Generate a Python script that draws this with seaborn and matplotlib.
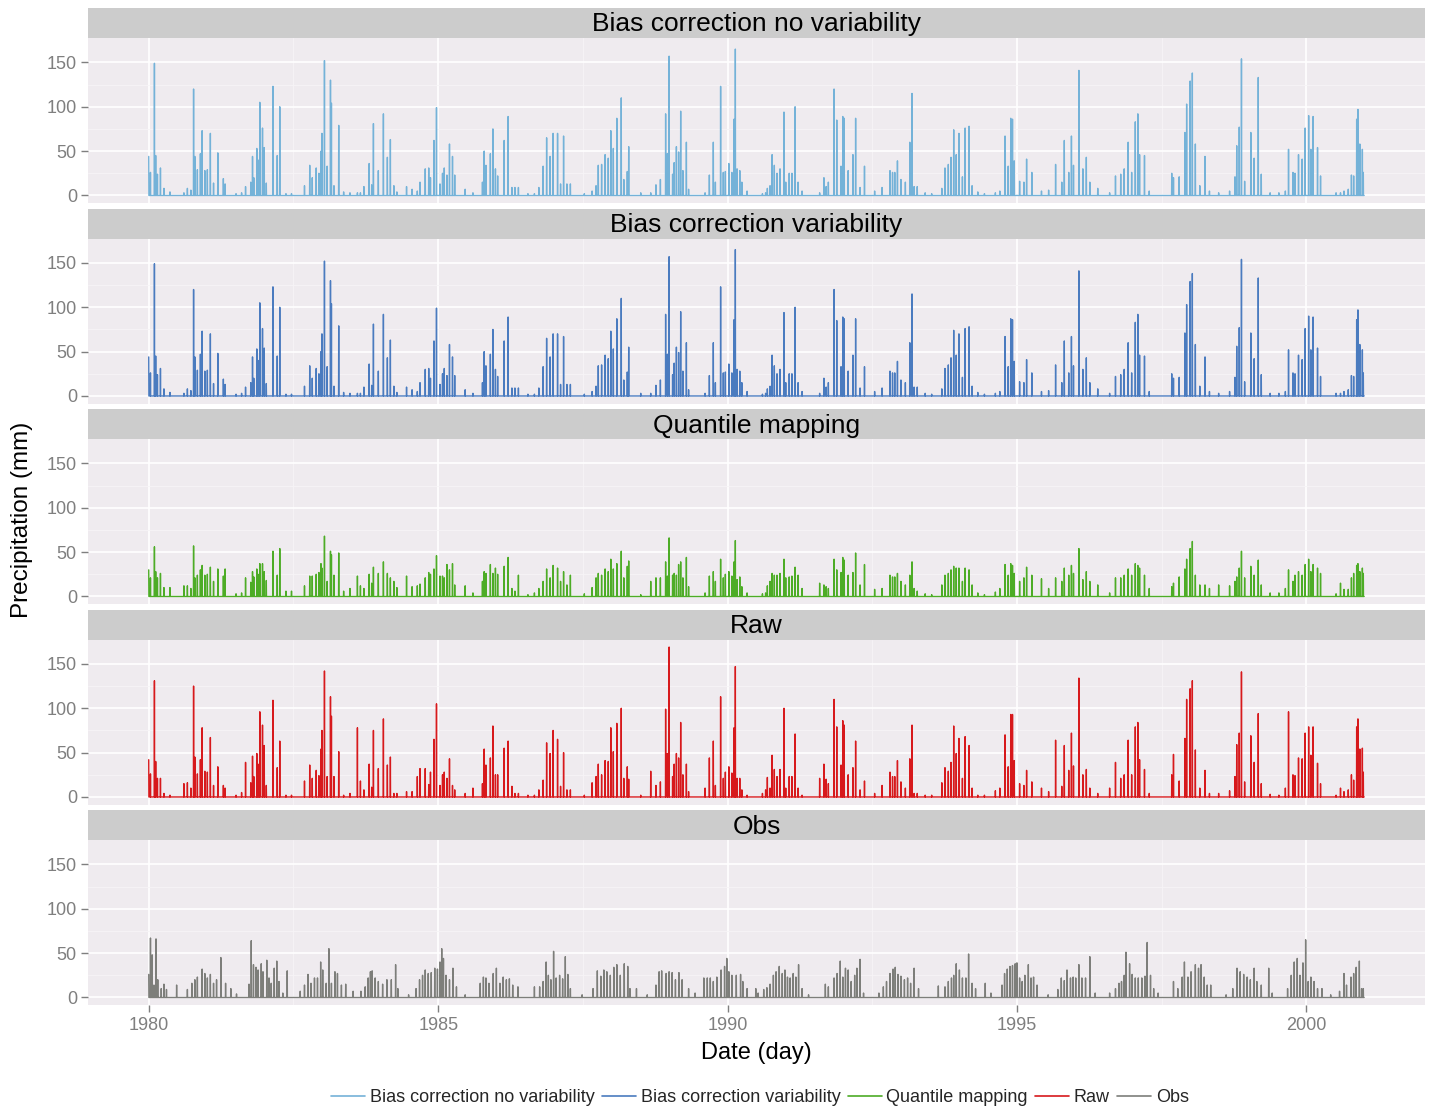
import numpy as np
import pandas as pd
import matplotlib
matplotlib.use("Agg")
import matplotlib.pyplot as plt
import matplotlib.dates as mdates
from matplotlib.ticker import FixedLocator
from matplotlib.lines import Line2D
import seaborn as sns

sns.set_theme(style="white")
plt.rcParams['font.family'] = ['Liberation Sans', 'DejaVu Sans']

# ---------------- data ----------------
series_names = ["Bias correction no variability", "Bias correction variability",
                "Quantile mapping", "Raw", "Obs"]
series_colors = ["#74B2D8", "#4A7BBF", "#4DAC26", "#D7191C", "#7D7E7A"]

# event dates (decimal years) shared by the model-based series, one wet season per line
event_years = [
    1980.000, 1980.030, 1980.097, 1980.120, 1980.150, 1980.202, 1980.262, 1980.367,
    1980.607, 1980.667, 1980.727, 1980.772, 1980.795, 1980.840, 1980.892, 1980.922, 1980.967, 1981.012, 1981.064, 1981.117, 1981.192, 1981.289, 1981.319, 1981.507,
    1981.604, 1981.672, 1981.762, 1981.792, 1981.814, 1981.867, 1981.889, 1981.919, 1981.964, 1981.994, 1982.031, 1982.144, 1982.219, 1982.264, 1982.369, 1982.466,
    1982.691, 1982.781, 1982.826, 1982.894, 1982.939, 1982.976, 1982.991, 1983.036, 1983.081, 1983.141, 1983.156, 1983.201, 1983.283, 1983.366, 1983.478,
    1983.606, 1983.658, 1983.718, 1983.808, 1983.853, 1983.883, 1983.966, 1984.055, 1984.123, 1984.175, 1984.235, 1984.288, 1984.453, 1984.550,
    1984.640, 1984.685, 1984.775, 1984.835, 1984.865, 1984.925, 1984.970, 1985.030, 1985.075, 1985.105, 1985.150, 1985.195, 1985.247, 1985.285, 1985.465, 1985.600,
    1985.765, 1985.795, 1985.825, 1985.900, 1985.945, 1985.990, 1986.027, 1986.139, 1986.207, 1986.274, 1986.327, 1986.387, 1986.552,
    1986.664, 1986.739, 1986.814, 1986.874, 1986.934, 1986.987, 1987.062, 1987.114, 1987.167, 1987.226, 1987.286, 1987.526,
    1987.661, 1987.729, 1987.766, 1987.826, 1987.886, 1987.939, 1987.984, 1988.028, 1988.088, 1988.163, 1988.208, 1988.268, 1988.291, 1988.501,
    1988.673, 1988.763, 1988.838, 1988.928, 1988.958, 1988.988, 1989.048, 1989.078, 1989.115, 1989.153, 1989.190, 1989.228, 1989.288, 1989.325,
    1989.610, 1989.685, 1989.753, 1989.790, 1989.880, 1989.925, 1989.963, 1990.022, 1990.075, 1990.112, 1990.135, 1990.165, 1990.210, 1990.247, 1990.337, 1990.604,
    1990.657, 1990.687, 1990.733, 1990.771, 1990.809, 1990.854, 1990.907, 1990.976, 1991.006, 1991.067, 1991.112, 1991.166, 1991.219, 1991.287,
    1991.591, 1991.667, 1991.705, 1991.743, 1991.841, 1991.887, 1991.963, 1991.993, 1992.016, 1992.084, 1992.168, 1992.213, 1992.289, 1992.365, 1992.540,
    1992.669, 1992.806, 1992.851, 1992.889, 1992.935, 1992.995, 1993.071, 1993.147, 1993.185, 1993.223, 1993.276, 1993.413, 1993.527,
    1993.702, 1993.755, 1993.815, 1993.861, 1993.907, 1993.952, 1993.998, 1994.058, 1994.104, 1994.172, 1994.226, 1994.324, 1994.438,
    1994.628, 1994.704, 1994.795, 1994.848, 1994.894, 1994.924, 1994.954, 1995.046, 1995.121, 1995.167, 1995.258, 1995.425, 1995.547,
    1995.668, 1995.774, 1995.820, 1995.896, 1995.942, 1995.979, 1996.071, 1996.139, 1996.200, 1996.260, 1996.397, 1996.602,
    1996.701, 1996.792, 1996.853, 1996.921, 1996.982, 1997.043, 1997.088, 1997.118, 1997.202, 1997.286,
    1997.673, 1997.703, 1997.802, 1997.901, 1997.931, 1997.992, 1998.030, 1998.083, 1998.159, 1998.250, 1998.326, 1998.485,
    1998.675, 1998.766, 1998.797, 1998.842, 1998.880, 1998.933, 1999.040, 1999.100, 1999.169, 1999.222, 1999.374, 1999.525,
    1999.639, 1999.693, 1999.769, 1999.806, 1999.867, 1999.928, 1999.981, 2000.042, 2000.080, 2000.118, 2000.194, 2000.247, 2000.513,
    2000.589, 2000.649, 2000.725, 2000.778, 2000.816, 2000.869, 2000.892, 2000.923, 2000.968, 2000.983,
]

bc_novar_mm = [
    44, 26, 149, 45, 24, 31, 8, 4,
    3, 8, 6, 120, 44, 29, 47, 73, 28, 29, 70, 14, 48, 19, 13, 2,
    3, 10, 15, 44, 20, 53, 40, 105, 76, 54, 14, 123, 45, 100, 2, 2,
    11, 34, 20, 31, 25, 50, 70, 152, 33, 130, 104, 11, 79, 4, 3,
    3, 3, 10, 36, 12, 81, 28, 92, 43, 63, 11, 4, 10, 7,
    5, 15, 30, 31, 20, 62, 99, 13, 25, 31, 23, 58, 44, 23, 7, 3,
    15, 50, 34, 47, 75, 30, 22, 62, 89, 9, 9, 9, 2,
    2, 9, 33, 65, 44, 70, 70, 13, 67, 13, 13, 2,
    5, 11, 34, 35, 46, 42, 73, 53, 87, 110, 18, 27, 55, 3,
    3, 12, 18, 92, 47, 157, 24, 37, 55, 49, 95, 28, 60, 7,
    3, 23, 60, 15, 123, 26, 27, 36, 26, 86, 165, 30, 28, 15, 5, 2,
    3, 8, 11, 46, 34, 25, 30, 94, 15, 25, 25, 100, 15, 5,
    3, 20, 10, 15, 120, 85, 33, 89, 87, 28, 46, 87, 9, 33, 5,
    9, 28, 26, 26, 39, 18, 15, 60, 115, 10, 10, 3, 2,
    8, 31, 35, 43, 74, 46, 70, 21, 76, 78, 11, 4, 2,
    3, 5, 67, 33, 87, 86, 39, 16, 15, 41, 26, 5, 6,
    35, 15, 62, 26, 67, 34, 141, 30, 43, 15, 8, 3,
    22, 24, 30, 60, 26, 83, 92, 46, 45, 5,
    25, 20, 21, 71, 103, 129, 138, 58, 11, 44, 5, 3,
    5, 21, 56, 77, 154, 16, 71, 42, 133, 24, 3, 3,
    5, 52, 26, 25, 46, 41, 76, 90, 52, 89, 54, 22, 3,
    3, 5, 7, 23, 22, 86, 97, 58, 52, 26,
]

# the "variability" panel reads identically to the "no variability" one
bc_var_mm = list(bc_novar_mm)

qm_mm = [
    30, 21, 56, 28, 21, 26, 10, 10,
    12, 12, 9, 57, 21, 24, 30, 35, 24, 25, 33, 17, 31, 23, 31, 3,
    4, 21, 16, 28, 22, 31, 25, 37, 37, 28, 18, 51, 24, 54, 6, 6,
    12, 23, 23, 25, 27, 37, 32, 68, 17, 51, 47, 24, 49, 6, 9,
    23, 12, 9, 25, 15, 33, 26, 39, 26, 21, 17, 10, 23, 11,
    12, 14, 21, 27, 25, 31, 46, 23, 23, 21, 36, 30, 37, 13, 12, 4,
    17, 28, 26, 36, 26, 32, 25, 34, 44, 9, 6, 24, 2,
    4, 9, 17, 31, 21, 35, 32, 17, 28, 13, 24, 3,
    10, 21, 26, 24, 31, 28, 42, 31, 37, 51, 21, 34, 40, 2,
    17, 21, 21, 39, 23, 66, 24, 26, 24, 36, 39, 21, 44, 11,
    4, 23, 28, 17, 42, 21, 25, 28, 23, 39, 63, 19, 22, 11, 4, 3,
    4, 12, 17, 26, 24, 24, 26, 42, 21, 22, 23, 33, 24, 9,
    15, 13, 11, 9, 42, 30, 27, 44, 41, 24, 27, 49, 13, 36, 8,
    9, 24, 22, 22, 26, 17, 13, 24, 39, 9, 6, 3, 2,
    13, 24, 26, 30, 34, 32, 32, 17, 32, 30, 13, 4, 2,
    5, 9, 36, 24, 37, 35, 26, 17, 21, 33, 24, 20, 9,
    21, 17, 32, 24, 35, 26, 54, 19, 28, 17, 13, 4,
    21, 21, 24, 31, 24, 37, 35, 32, 24, 9,
    11, 15, 22, 31, 42, 54, 62, 24, 13, 13, 9, 13,
    12, 17, 22, 32, 51, 21, 34, 24, 41, 13, 4, 4,
    9, 30, 17, 24, 28, 24, 36, 42, 28, 36, 32, 26, 3,
    15, 8, 8, 21, 26, 35, 37, 28, 32, 26,
]

raw_mm = [
    42, 26, 131, 40, 21, 21, 4, 2,
    15, 16, 10, 125, 45, 26, 42, 78, 29, 28, 67, 13, 34, 13, 10, 2,
    5, 39, 16, 46, 23, 49, 37, 96, 81, 58, 13, 109, 33, 63, 2, 2,
    18, 36, 21, 30, 24, 54, 75, 142, 23, 113, 91, 23, 51, 2, 4,
    78, 18, 8, 37, 11, 75, 32, 88, 36, 45, 4, 4, 6, 6,
    23, 32, 32, 14, 28, 65, 105, 13, 25, 28, 21, 43, 13, 8, 4, 10,
    15, 54, 36, 44, 80, 25, 25, 55, 63, 12, 4, 4, 2,
    2, 8, 19, 61, 49, 75, 65, 12, 50, 8, 8, 2,
    16, 23, 37, 25, 41, 40, 78, 51, 83, 100, 21, 34, 20, 2,
    29, 13, 17, 99, 49, 169, 23, 37, 49, 44, 84, 25, 37, 6,
    10, 44, 63, 13, 113, 21, 28, 34, 27, 78, 147, 21, 21, 8, 2, 4,
    8, 22, 10, 47, 31, 23, 31, 100, 10, 23, 23, 71, 10, 2,
    21, 37, 20, 15, 110, 79, 36, 86, 81, 25, 33, 63, 8, 18, 4,
    13, 28, 23, 23, 41, 17, 10, 43, 81, 4, 4, 2, 2,
    16, 33, 29, 39, 80, 49, 66, 21, 68, 58, 10, 2, 2,
    7, 10, 70, 34, 93, 93, 41, 15, 13, 30, 17, 10, 6,
    64, 12, 58, 30, 72, 35, 134, 25, 31, 10, 4, 10,
    39, 21, 25, 64, 25, 79, 84, 42, 31, 4,
    25, 48, 18, 66, 110, 122, 131, 53, 10, 30, 4, 4,
    7, 23, 59, 72, 141, 17, 69, 39, 94, 15, 3, 2,
    10, 96, 25, 24, 44, 43, 72, 79, 47, 79, 38, 15, 2,
    10, 6, 8, 25, 19, 79, 88, 54, 55, 28,
]

obs_years = [
    1980.000, 1980.030, 1980.060, 1980.090, 1980.127, 1980.157, 1980.217, 1980.262, 1980.307, 1980.480,
    1980.667, 1980.742, 1980.795, 1980.840, 1980.922, 1980.967, 1981.012, 1981.064, 1981.117, 1981.169, 1981.244, 1981.327, 1981.417, 1981.514,
    1981.732, 1981.769, 1981.807, 1981.852, 1981.889, 1981.942, 1981.972, 1982.039, 1982.076, 1982.114, 1982.166, 1982.211, 1982.249, 1982.316, 1982.391,
    1982.616, 1982.691, 1982.751, 1982.804, 1982.864, 1982.916, 1982.969, 1983.006, 1983.066, 1983.111, 1983.156, 1983.216, 1983.261, 1983.328, 1983.403,
    1983.531, 1983.666, 1983.741, 1983.793, 1983.831, 1983.861, 1983.913, 1983.966, 1984.040, 1984.115, 1984.190, 1984.265, 1984.303, 1984.490,
    1984.618, 1984.678, 1984.730, 1984.775, 1984.828, 1984.880, 1984.940, 1984.985, 1985.030, 1985.060, 1985.090, 1985.135, 1985.195, 1985.255, 1985.315, 1985.465,
    1985.727, 1985.780, 1985.825, 1985.877, 1985.952, 1986.005, 1986.065, 1986.124, 1986.177, 1986.229, 1986.289, 1986.379,
    1986.664, 1986.754, 1986.814, 1986.867, 1986.904, 1986.949, 1986.994, 1987.039, 1987.099, 1987.152, 1987.196, 1987.241, 1987.286, 1987.489,
    1987.676, 1987.751, 1987.811, 1987.864, 1987.916, 1987.976, 1988.036, 1988.088, 1988.148, 1988.216, 1988.276, 1988.313, 1988.426, 1988.613,
    1988.763, 1988.816, 1988.861, 1988.936, 1988.988, 1989.040, 1989.100, 1989.160, 1989.213, 1989.325, 1989.438,
    1989.588, 1989.648, 1989.700, 1989.753, 1989.813, 1989.888, 1989.948, 1989.985, 1990.022, 1990.075, 1990.150, 1990.225, 1990.262, 1990.337, 1990.487,
    1990.528, 1990.626, 1990.680, 1990.733, 1990.793, 1990.839, 1990.892, 1990.945, 1990.991, 1991.036, 1991.082, 1991.135, 1991.181, 1991.227, 1991.287, 1991.401,
    1991.690, 1991.743, 1991.841, 1991.894, 1991.948, 1991.993, 1992.039, 1992.084, 1992.137, 1992.198, 1992.236, 1992.289, 1992.350,
    1992.616, 1992.692, 1992.745, 1992.806, 1992.859, 1992.897, 1992.942, 1992.995, 1993.056, 1993.109, 1993.162, 1993.223, 1993.299,
    1993.641, 1993.755, 1993.815, 1993.869, 1993.907, 1993.952, 1994.005, 1994.058, 1994.119, 1994.165, 1994.226, 1994.286, 1994.453, 1994.552,
    1994.742, 1994.787, 1994.833, 1994.879, 1994.924, 1994.970, 1995.000, 1995.046, 1995.091, 1995.137, 1995.197, 1995.243, 1995.289, 1995.349, 1995.539,
    1995.706, 1995.767, 1995.820, 1995.866, 1995.926, 1995.972, 1996.017, 1996.071, 1996.124, 1996.185, 1996.260, 1996.352, 1996.602,
    1996.701, 1996.762, 1996.807, 1996.853, 1996.883, 1996.944, 1996.989, 1997.043, 1997.096, 1997.156, 1997.210, 1997.248, 1997.308, 1997.361, 1997.437,
    1997.703, 1997.779, 1997.855, 1997.893, 1997.954, 1998.007, 1998.083, 1998.136, 1998.181, 1998.235, 1998.288, 1998.349, 1998.614,
    1998.728, 1998.804, 1998.857, 1998.918, 1998.979, 1999.032, 1999.100, 1999.146, 1999.222, 1999.351, 1999.412,
    1999.678, 1999.739, 1999.791, 1999.844, 1999.890, 1999.943, 1999.989, 2000.034, 2000.080, 2000.134, 2000.194, 2000.270, 2000.422,
    2000.574, 2000.650, 2000.695, 2000.771, 2000.817, 2000.862, 2000.915, 2000.953, 2000.983,
]

obs_mm = [
    26, 67, 48, 14, 66, 20, 10, 15, 9, 14,
    9, 16, 20, 23, 32, 27, 22, 26, 16, 20, 45, 16, 10, 4,
    15, 64, 37, 34, 31, 38, 29, 42, 22, 16, 33, 41, 18, 5, 30,
    7, 14, 26, 16, 22, 22, 40, 31, 16, 55, 16, 29, 27, 14, 15,
    7, 7, 12, 22, 29, 30, 22, 18, 15, 20, 20, 37, 10, 3,
    10, 20, 25, 31, 27, 28, 33, 32, 40, 55, 44, 25, 20, 33, 12, 3,
    16, 23, 22, 16, 27, 33, 16, 23, 20, 21, 14, 12,
    12, 12, 18, 40, 25, 20, 52, 22, 25, 21, 46, 26, 10, 3,
    10, 30, 24, 31, 29, 25, 34, 37, 25, 38, 35, 10, 10, 3,
    14, 29, 30, 27, 29, 28, 20, 28, 20, 10, 5,
    22, 22, 22, 18, 23, 31, 35, 44, 29, 25, 25, 26, 18, 10, 10,
    5, 9, 11, 15, 25, 29, 35, 27, 31, 23, 22, 27, 23, 37, 10, 3,
    15, 12, 22, 27, 41, 23, 33, 31, 18, 25, 33, 43, 5,
    5, 12, 18, 27, 32, 34, 26, 24, 20, 22, 16, 33, 10,
    13, 12, 18, 22, 25, 38, 31, 22, 22, 49, 16, 10, 16, 5,
    14, 27, 32, 35, 36, 38, 39, 22, 18, 25, 37, 22, 23, 14, 3,
    9, 22, 19, 31, 22, 23, 22, 37, 22, 22, 46, 5, 5,
    10, 16, 18, 25, 51, 38, 26, 22, 22, 22, 24, 62, 25, 10, 5,
    18, 10, 23, 40, 23, 29, 37, 33, 37, 23, 14, 14, 3,
    10, 33, 29, 26, 23, 20, 33, 18, 14, 33, 5,
    10, 25, 40, 44, 25, 39, 65, 18, 23, 18, 10, 10, 3,
    7, 27, 14, 23, 27, 34, 41, 10, 10,
]

y_ticks = [0, 50, 100, 150]
x_tick_years = [1980, 1985, 1990, 1995, 2000]

# ---------------- build daily series ----------------
days = pd.date_range("1980-01-01", "2000-12-31", freq="D")


def to_day(dy):
    y = int(np.floor(dy + 1e-9))
    frac = dy - y
    start = pd.Timestamp(year=y, month=1, day=1)
    n = 366 if start.is_leap_year else 365
    return start + pd.Timedelta(days=int(round(frac * n)))


def daily(years, vals):
    assert len(years) == len(vals)
    s = pd.Series(0.0, index=days)
    for yv, v in zip(years, vals):
        d = min(to_day(yv), days[-1])
        s[d] = max(s[d], float(v))
    return s


series_data = {
    series_names[0]: daily(event_years, bc_novar_mm),
    series_names[1]: daily(event_years, bc_var_mm),
    series_names[2]: daily(event_years, qm_mm),
    series_names[3]: daily(event_years, raw_mm),
    series_names[4]: daily(obs_years, obs_mm),
}
frames = []
for name in series_names:
    s = series_data[name]
    frames.append(pd.DataFrame({"date": s.index, "mm": s.values, "method": name}))
df = pd.concat(frames, ignore_index=True)

# ---------------- figure ----------------
W, H = 1439, 1114
fig = plt.figure(figsize=(W / 100, H / 100), dpi=100)
fig.patch.set_facecolor("white")

left_px, right_px = 88, 1425
panel_h, strip_h, step = 165, 30, 200.5
panel_bg = "#EFEBEF"
tick_grey = "#7F7F7F"


def dec_to_ts(dy):
    y = int(np.floor(dy))
    start = pd.Timestamp(year=y, month=1, day=1)
    n = 366 if start.is_leap_year else 365
    return start + pd.Timedelta(days=(dy - y) * n)


xlim = (dec_to_ts(1978.95), dec_to_ts(2002.05))
minor_x = [mdates.date2num(pd.Timestamp(f"{y}-07-02")) for y in (1982, 1987, 1992, 1997)]

for i, (name, col) in enumerate(zip(series_names, series_colors)):
    top_strip = 8 + step * i
    top_panel = top_strip + strip_h
    ax = fig.add_axes([left_px / W, 1 - (top_panel + panel_h) / H,
                       (right_px - left_px) / W, panel_h / H])
    sub = df[df["method"] == name]
    sns.lineplot(data=sub, x="date", y="mm", ax=ax, color=col, lw=1.0,
                 estimator=None, legend=False)
    ax.set_facecolor(panel_bg)
    for sp in ax.spines.values():
        sp.set_visible(False)
    ax.set_xlim(*xlim)
    ax.set_ylim(-8.5, 177.5)
    ax.set_yticks(y_ticks)
    ax.yaxis.set_minor_locator(FixedLocator([25, 75, 125]))
    ax.xaxis.set_major_locator(FixedLocator(
        [mdates.date2num(pd.Timestamp(f"{y}-01-01")) for y in x_tick_years]))
    ax.xaxis.set_minor_locator(FixedLocator(minor_x))
    ax.xaxis.set_major_formatter(mdates.DateFormatter("%Y"))
    ax.grid(which="major", color="white", lw=1.2)
    ax.grid(which="minor", color="#F7F4F7", lw=0.6)
    ax.set_axisbelow(True)
    ax.set_xlabel("")
    ax.set_ylabel("")
    ax.tick_params(axis="y", which="major", direction="out", length=5, width=1,
                   color=tick_grey, labelcolor=tick_grey, labelsize=13, pad=3, left=True)
    ax.tick_params(axis="both", which="minor", length=0)
    if i < len(series_names) - 1:
        ax.tick_params(axis="x", which="major", length=0, labelbottom=False)
    else:
        ax.tick_params(axis="x", which="major", direction="out", length=5, width=1,
                       color=tick_grey, labelcolor=tick_grey, labelsize=13, pad=4, bottom=True)

    sax = fig.add_axes([left_px / W, 1 - (top_strip + strip_h) / H,
                        (right_px - left_px) / W, strip_h / H])
    sax.set_facecolor("#CCCCCC")
    sax.set_xticks([])
    sax.set_yticks([])
    for sp in sax.spines.values():
        sp.set_visible(False)
    sax.text(0.5, 0.45, name, ha="center", va="center", fontsize=19,
             color="black", transform=sax.transAxes)

fig.text(22 / W, 1 - 520 / H, "Precipitation (mm)", rotation=90,
         ha="center", va="center", fontsize=17.5, color="black")
fig.text(756 / W, 1 - 1053 / H, "Date (day)", ha="center", va="center",
         fontsize=17, color="black")

handles = [Line2D([], [], color=c, lw=1.2) for c in series_colors]
fig.legend(handles, series_names, loc="center", bbox_to_anchor=(760 / W, 1 - 1098 / H),
           ncol=5, frameon=False, fontsize=13, handlelength=1.9,
           handletextpad=0.25, columnspacing=0.4)

fig.savefig("out.png", dpi=100)
